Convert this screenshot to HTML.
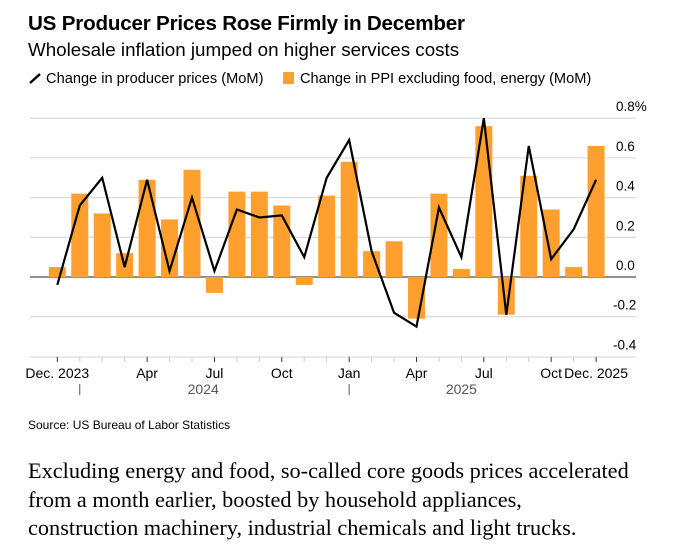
<!DOCTYPE html>
<html><head><meta charset="utf-8"><style>
body{margin:0;background:#fff;width:674px;height:555px;overflow:hidden;font-family:"Liberation Sans",sans-serif;color:#000}
.a{position:absolute;white-space:nowrap}
</style></head><body>
<div class="a" style="left:28px;top:12px;font-size:20.6px;font-weight:bold;letter-spacing:-0.2px">US Producer Prices Rose Firmly in December</div>
<div class="a" style="left:28px;top:39px;font-size:18.8px">Wholesale inflation jumped on higher services costs</div>
<div class="a" style="left:28px;top:71px;font-size:14.6px"><svg width="14" height="12" style="vertical-align:-1px"><line x1="2" y1="11" x2="12" y2="2" stroke="#000" stroke-width="2.4"/></svg> Change in producer prices (MoM)</div>
<div class="a" style="left:283px;top:71px;font-size:14.6px"><span style="display:inline-block;width:11px;height:12px;background:#ffa02e;vertical-align:-1px;margin-right:6px"></span>Change in PPI excluding food, energy (MoM)</div>
<svg id="c" width="674" height="410" style="position:absolute;left:0;top:0"></svg>
<div class="a" style="left:28px;top:418px;font-size:12px">Source: US Bureau of Labor Statistics</div>
<div class="a" style="left:28px;top:457px;font-family:'Liberation Serif',serif;font-size:22.3px;line-height:28.5px">Excluding energy and food, so-called core goods prices accelerated<br>from a month earlier, boosted by household appliances,<br>construction machinery, industrial chemicals and light trucks.</div>
<script>
const months=["Dec23","Jan24","Feb24","Mar24","Apr24","May24","Jun24","Jul24","Aug24","Sep24","Oct24","Nov24","Dec24","Jan25","Feb25","Mar25","Apr25","May25","Jun25","Jul25","Aug25","Sep25","Oct25","Nov25","Dec25"];
const coreValues=[0.05,0.42,0.32,0.12,0.49,0.29,0.54,-0.08,0.43,0.43,0.36,-0.04,0.41,0.58,0.13,0.18,-0.21,0.42,0.04,0.76,-0.19,0.51,0.34,0.05,0.66];
const ppiValues=[-0.04,0.36,0.50,0.05,0.49,0.03,0.40,0.03,0.34,0.30,0.31,0.10,0.50,0.69,0.13,-0.18,-0.25,0.35,0.10,0.80,-0.19,0.66,0.09,0.24,0.49];
const yTicks=[0.8,0.6,0.4,0.2,0.0,-0.2,-0.4];
const yTickLabels=["0.8%","0.6","0.4","0.2","0.0","-0.2","-0.4"];
const xLabels=[[0,"Dec. 2023"],[4,"Apr"],[7,"Jul"],[10,"Oct"],[13,"Jan"],[16,"Apr"],[19,"Jul"],[22,"Oct"],[24,"Dec. 2025"]];
const yearLabels=[[6.5,"2024"],[18,"2025"]];
const yearTicks=[1,13];
const svg=document.getElementById('c');const NS='http://www.w3.org/2000/svg';
const x=i=>57.3+i*22.45;
const y=v=>277-v*198.5;
function el(t,a){const e=document.createElementNS(NS,t);for(const k in a)e.setAttribute(k,a[k]);svg.appendChild(e);return e;}
yTicks.forEach((v,i)=>{
 if(v>-0.4){const g=el('line',{x1:30,x2:636,y1:y(v),y2:y(v),stroke:v===0?'#222':'#ddd','stroke-width':v===0?1:1.3});
 
 }
 const t=el('text',{x:v<0?613:616,y:y(v)-7,'font-size':13.5});t.textContent=yTickLabels[i];
 
 
});
const ax=el('line',{x1:30,x2:636,y1:357,y2:357,stroke:'#ddd','stroke-width':1.3});


coreValues.forEach((v,i)=>{
 const r=el('rect',{x:x(i)-8.5,width:17,y:Math.min(y(v),y(0)),height:Math.abs(y(v)-y(0)),fill:'#ffa02e'});
 
 
 const tk=el('line',{x1:x(i),x2:x(i),y1:357,y2:362,stroke:xLabels.some(l=>l[0]===i)?'#333':'#ccc','stroke-width':1});
 
 
});
const p=el('polyline',{points:ppiValues.map((v,i)=>x(i)+','+y(v)).join(' '),fill:'none',stroke:'#000','stroke-width':2.2});


xLabels.forEach(([i,s])=>{const t=el('text',{x:x(i),y:378,'font-size':14,'text-anchor':'middle'});t.textContent=s;
 
 });
yearLabels.forEach(([i,s])=>{const t=el('text',{x:x(i),y:394,'font-size':14,'text-anchor':'middle',fill:'#555'});t.textContent=s;
 
 });
yearTicks.forEach(i=>{const l=el('line',{x1:x(i),x2:x(i),y1:384,y2:395,stroke:'#555'});
 
 });
</script>
</body></html>
